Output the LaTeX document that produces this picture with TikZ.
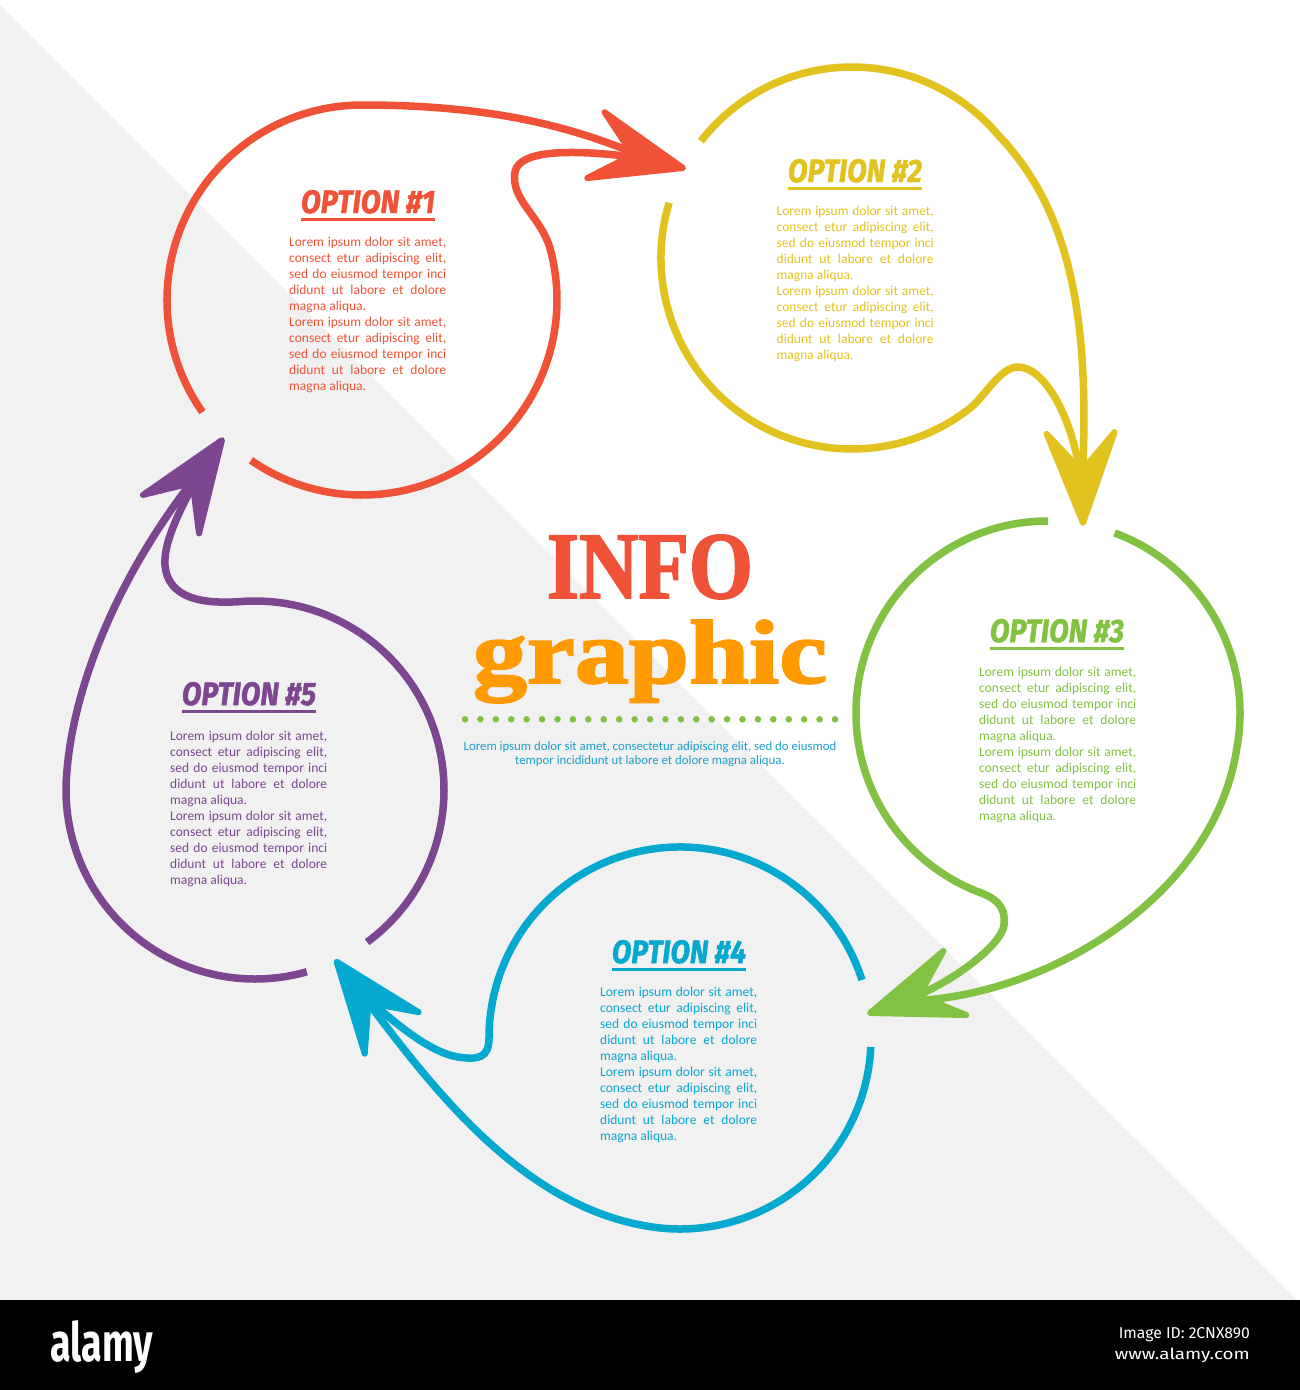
\documentclass[tikz,border=0pt]{standalone}
\usepackage{fontspec}
\setmainfont{Carlito}
\newfontfamily\titlefont{Fira Sans}[BoldItalicFeatures={FakeBold=1.5}]
\newfontfamily\heavyserif{Liberation Serif}[BoldFeatures={FakeBold=2}]
\usetikzlibrary{calc}
\definecolor{redA}{HTML}{EF5236}
\definecolor{yellowA}{HTML}{E2C21F}
\definecolor{greenA}{HTML}{82C242}
\definecolor{blueA}{HTML}{05A8CE}
\definecolor{purpleA}{HTML}{7D4690}
\definecolor{orangeA}{HTML}{FF9A00}
\definecolor{tealA}{HTML}{1A9FC9}
\definecolor{bgray}{HTML}{F1F1F1}
\newlength\bodyw
\setlength\bodyw{157pt}
\newcommand\jline[1]{\makebox[\bodyw][s]{#1}}
\newcommand\loremtext{%
\jline{Lorem ipsum dolor sit amet,}\\
\jline{consect etur adipiscing elit,}\\
\jline{sed do eiusmod tempor inci}\\
\jline{didunt ut labore et dolore}\\
magna aliqua.\\
\jline{Lorem ipsum dolor sit amet,}\\
\jline{consect etur adipiscing elit,}\\
\jline{sed do eiusmod tempor inci}\\
\jline{didunt ut labore et dolore}\\
magna aliqua.}
\newcommand\optitle[1]{\resizebox{134pt}{23pt}{\titlefont\bfseries\itshape OPTION \##1}}
\tikzset{
  loopline/.style={line width=7.5pt},
  ahead/.pic={\filldraw[line width=6pt, line join=round] (0,0) -- (-90,-34) -- (-52,0) -- (-90,34) -- cycle;},
  titlenode/.style={inner sep=0pt, anchor=base},
  bodynode/.style={anchor=north west, inner sep=0pt, align=left, font=\fontsize{13.5}{16}\selectfont},
  uline/.style={line width=2.5pt},
}
\begin{document}
\begin{tikzpicture}[x=1pt, y=1pt, yscale=-1]
\useasboundingbox (0,0) rectangle (1300,1390);
% background
\fill[white] (0,0) rectangle (1300,1300);
\fill[bgray] (0,5) -- (1297,1300) -- (0,1300) -- cycle;
\fill[black] (0,1300) rectangle (1300,1390);

% tips and strand ends
\coordinate (t1) at (683,168);   \coordinate (e1) at (649,159);
\coordinate (t2) at (1083,523);  \coordinate (e2) at (1082,488);
\coordinate (t3) at (870,1013);  \coordinate (e3) at (903,1001);
\coordinate (t4) at (336.6,961.7); \coordinate (e4) at (358,989);
\coordinate (t5) at (222,440);   \coordinate (e5) at (202,469);

% ---- loop 1 (red)
\draw[loopline, redA] (362,300) ++(144.9:195) arc[start angle=144.9, end angle=270, radius=195]
   .. controls (502,105) and (580,130) .. (e1);
\draw[loopline, redA] (362,300) ++(124.7:195) arc[start angle=124.7, end angle=-15, radius=195]
   .. controls (541,215.7) and (510,200) .. (515,172) .. controls (519,150) and (570,148) .. (e1);
\pic[color=redA, rotate=-14.7] at (t1) {ahead};

% ---- loop 2 (yellow)
\draw[loopline, yellowA] (852,258) ++(217.7:191) arc[start angle=217.7, end angle=320, radius=191]
   .. controls (1075,215) and (1090,330) .. (e2);
\draw[loopline, yellowA] (852,258) ++(196.8:191) arc[start angle=196.8, end angle=52, radius=191]
   .. controls (985,396.5) and (1000,367) .. (1018,367) .. controls (1045,367) and (1075,420) .. (e2);
\pic[color=yellowA, rotate=-88.5] at (t2) {ahead};

% ---- loop 3 (green)
\draw[loopline, greenA] (1048,713) ++(290.3:192) arc[start angle=290.3, end angle=370, radius=192]
   .. controls (1215,900) and (1040,1000) .. (e3);
\draw[loopline, greenA] (1048,713) ++(270:192) arc[start angle=270, end angle=112, radius=192]
   .. controls (995,897.7) and (1006,905) .. (1004,925) .. controls (1002,945) and (950,985) .. (e3);
\pic[color=greenA, rotate=-160.5] at (t3) {ahead};

% ---- loop 4 (blue)
\draw[loopline, blueA] (680,1038) ++(2.7:191) arc[start angle=2.7, end angle=100, radius=191]
   .. controls (518.7,1204.4) and (430,1085) .. (e4);
\draw[loopline, blueA] (680,1038) ++(342.3:191) arc[start angle=342.3, end angle=180, radius=191]
   .. controls (489,1058) and (478,1060) .. (458,1057) .. controls (432,1053) and (395,1025) .. (e4);
\pic[color=blueA, rotate=-232.3] at (t4) {ahead};

% ---- loop 5 (purple)
\draw[loopline, purpleA] (255,790) ++(74.1:189) arc[start angle=74.1, end angle=185, radius=189]
   .. controls (73.5,683.8) and (120,570) .. (e5);
\draw[loopline, purpleA] (255,790) ++(53.6:189) arc[start angle=53.6, end angle=-95, radius=189]
   .. controls (205.2,603.6) and (168,600) .. (165,565) .. controls (163,540) and (185,500) .. (e5);
\pic[color=purpleA, rotate=-304.5] at (t5) {ahead};

% ---- titles
\node[titlenode, text=redA] (h1) at (368,213) {\optitle{1}};
\node[titlenode, text=yellowA] (h2) at (855,182) {\optitle{2}};
\node[titlenode, text=greenA] (h3) at (1057,642) {\optitle{3}};
\node[titlenode, text=blueA] (h4) at (679,963) {\optitle{4}};
\node[titlenode, text=purpleA] (h5) at (249,705) {\optitle{5}};
\foreach \h/\c in {h1/redA, h2/yellowA, h3/greenA, h4/blueA, h5/purpleA}{
  \draw[uline, \c] ($(\h.base west)+(0,6.5)$) -- ($(\h.base east)+(0,6.5)$);
}

% ---- body texts
\node[bodynode, text=redA] (b1) at (289,237) {\loremtext};
\node[bodynode, text=yellowA] (b2) at (776.5,205.5) {\loremtext};
\node[bodynode, text=greenA] (b3) at (979,667.3) {\loremtext};
\node[bodynode, text=blueA] (b4) at (600,987.3) {\loremtext};
\node[bodynode, text=purpleA] (b5) at (170,731.3) {\loremtext};

% ---- centre
\node[inner sep=0pt, anchor=base, text=redA] (info) at (650,598) {\resizebox{206pt}{63pt}{\heavyserif\bfseries INFO}};
\node[inner sep=0pt, anchor=base, text=orangeA] (graphic) at (650,683) {\resizebox{354pt}{63pt}{\heavyserif\bfseries graphic}};
\foreach \i in {0,...,24} \fill[greenA] ({465+15.417*\i},719.3) circle[radius=3.3];
\node[inner sep=0pt, align=center, text=tealA, font=\fontsize{12.8}{14}\selectfont] (sub) at (650,754) {Lorem ipsum dolor sit amet, consectetur adipiscing elit, sed do eiusmod\\tempor incididunt ut labore et dolore magna aliqua.};

% ---- footer
\node[inner sep=0pt, anchor=base west, text=white] (logo) at (50,1361) {\resizebox{103pt}{41pt}{\titlefont\bfseries alamy}};
\node[inner sep=0pt, anchor=base east, text=white] (imgid) at (1250,1338) {\resizebox{131pt}{11pt}{\titlefont Image ID: 2CNX890}};
\node[inner sep=0pt, anchor=base east, text=white] (www) at (1250,1359) {\resizebox{135pt}{11.5pt}{\titlefont www.alamy.com}};
\end{tikzpicture}
\end{document}
